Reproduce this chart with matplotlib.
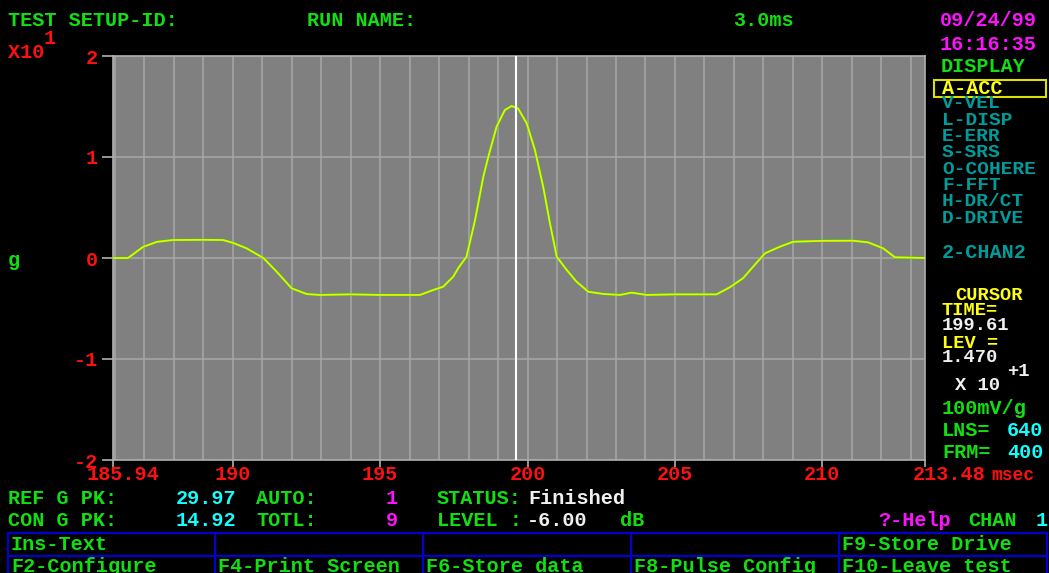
import matplotlib
matplotlib.use("Agg")
import matplotlib.pyplot as plt
import matplotlib.transforms as mtransforms

W, H = 1049, 573

# measured trace (msec, level in units of x10 g)
time_ms = [185.94, 186.45, 186.96, 187.43, 187.97, 189.0, 189.67, 190.01, 190.47, 191.04,
           191.49, 192.0, 192.51, 192.96, 194.0, 195.0, 196.35, 196.8, 197.14, 197.48,
           197.65, 197.93, 198.22, 198.5, 198.67, 198.95, 199.23, 199.46, 199.68, 199.97,
           200.25, 200.53, 200.76, 200.99, 201.33, 201.66, 202.06, 202.57, 203.13, 203.53,
           204.04, 205.0, 206.41, 206.86, 207.31, 207.65, 208.05, 208.56, 209.01, 210.0,
           211.04, 211.55, 212.06, 212.46, 213.48]
level = [0, 0, 0.11, 0.16, 0.178, 0.18, 0.178, 0.15, 0.096, 0,
         -0.135, -0.30, -0.357, -0.366, -0.36, -0.366, -0.366, -0.317, -0.284, -0.185,
         -0.10, 0.013, 0.376, 0.805, 1.003, 1.30, 1.465, 1.505, 1.48, 1.334,
         1.07, 0.706, 0.343, 0.013, -0.119, -0.234, -0.334, -0.356, -0.366, -0.343,
         -0.366, -0.36, -0.36, -0.29, -0.20, -0.086, 0.046, 0.112, 0.161, 0.17,
         0.171, 0.155, 0.096, 0.007, 0]

cursor_time = 199.61
x_ticks = [185.94, 190, 195, 200, 205, 210, 213.48]
x_labels = ["185.94", "190", "195", "200", "205", "210", "213.48"]
y_ticks = [-2, -1, 0, 1, 2]

display_menu = ["V-VEL", "L-DISP", "E-ERR", "S-SRS", "O-COHERE", "F-FFT", "H-DR/CT", "D-DRIVE"]
fkeys_row1 = ["Ins-Text", "", "", "", "F9-Store Drive"]
fkeys_row2 = ["F2-Configure", "F4-Print Screen", "F6-Store data", "F8-Pulse Config", "F10-Leave test"]

GREEN = "#10e010"
RED = "#ff1010"
MAG = "#ff10ff"
TEAL = "#009c9c"
CYAN = "#10ffff"
YEL = "#ffff10"
WHITE = "#f0f0f0"
BLUE = "#0000d0"

plt.rcParams["font.family"] = ["Liberation Mono", "DejaVu Sans Mono"]
plt.rcParams["font.weight"] = "bold"
FS = 14.5

fig = plt.figure(figsize=(W / 100, H / 100), dpi=100, facecolor="black")


def txt(x, y, s, c, fs=FS, ha="left"):
    # screen pixel coords, origin top-left
    fig.text(x / W, 1 - y / H, s, color=c, fontsize=fs, ha=ha, va="center", fontweight="bold")


ax = fig.add_axes([113 / W, 1 - 460 / H, 812 / W, 404 / H])
ax.set_facecolor("#808080")
ax.set_xlim(185.94, 213.48)
ax.set_ylim(-2, 2)

for t in range(186, 214):
    ax.axvline(t, color="#a8a8a8", lw=1.1, zorder=1)
for yv in [-1, 0, 1]:
    ax.axhline(yv, color="#a8a8a8", lw=1.1, zorder=1)

ax.plot(time_ms, level, color=GREEN, lw=1.8, zorder=3)
ax.plot(time_ms, level, color="#f0f000", lw=1.3, zorder=4)
ax.axvline(cursor_time, color="white", lw=1.5, zorder=5)

for sp in ax.spines.values():
    sp.set_color("#b0b0b0")
    sp.set_linewidth(1.2)

ax.set_yticks(y_ticks)
ax.set_yticklabels([str(v) for v in y_ticks], color=RED, fontsize=FS, fontweight="bold")
ax.set_xticks(x_ticks)
ax.set_xticklabels([])
ax.tick_params(axis="y", colors="#b0b0b0", length=8, width=1.2, pad=3, labelcolor=RED)
ax.tick_params(axis="x", colors="#b0b0b0", length=5, width=1.2)

trans = mtransforms.blended_transform_factory(ax.transData, ax.transAxes)
for i, (tv, lab) in enumerate(zip(x_ticks, x_labels)):
    if i == 0:
        tr = trans + mtransforms.ScaledTranslation(-0.26, 0, fig.dpi_scale_trans)
        ax.text(tv, -0.037, lab, transform=tr, color=RED, fontsize=FS, ha="left", va="center")
    elif i == len(x_ticks) - 1:
        tr = trans + mtransforms.ScaledTranslation(-0.12, 0, fig.dpi_scale_trans)
        ax.text(tv, -0.037, lab, transform=tr, color=RED, fontsize=FS, ha="left", va="center")
    else:
        ax.text(tv, -0.037, lab, transform=trans, color=RED, fontsize=FS, ha="center", va="center")
txt(991, 476, "msec", RED, fs=13)

# header
txt(8, 20, "TEST SETUP-ID:", GREEN)
txt(307, 20, "RUN NAME:", GREEN)
txt(733, 20, "3.0ms", GREEN)
txt(940, 20, "09/24/99", MAG)
txt(940, 44, "16:16:35", MAG)

# left labels
txt(8, 52, "X10", RED)
txt(44, 39, "1", RED)
txt(8, 260, "g", GREEN)

# right side menu
txt(941, 67, "DISPLAY", GREEN)
fig.patches.append(plt.Rectangle((934 / W, 1 - 97 / H), 112 / W, 17 / H, transform=fig.transFigure,
                                 fill=False, edgecolor="#e0e000", lw=1.5))
txt(942, 88, "A-ACC", YEL)
for i, item in enumerate(display_menu):
    txt(942, 104 + i * 16.3, item, TEAL, fs=14)
txt(942, 253, "2-CHAN2", TEAL)

cs = 13.5
txt(955, 295, "CURSOR", YEL, fs=cs)
txt(942, 310, "TIME=", YEL, fs=cs)
txt(942, 325, "199.61", WHITE, fs=cs)
txt(942, 343, "LEV =", YEL, fs=cs)
txt(942, 358, "1.470", WHITE, fs=cs)
txt(955, 386, "X 10", WHITE, fs=cs)
txt(1007, 372, "+1", WHITE, fs=cs)
txt(942, 408, "100mV/g", GREEN)
txt(942, 431, "LNS=", GREEN)
txt(1007, 431, "640", CYAN)
txt(942, 453, "FRM=", GREEN)
txt(1007, 453, "400", CYAN)

# status lines
txt(8, 498, "REF G PK:", GREEN)
txt(176, 498, "29.97", CYAN)
txt(256, 498, "AUTO:", GREEN)
txt(386, 498, "1", MAG)
txt(437, 498, "STATUS:", GREEN)
txt(528, 498, "Finished", WHITE)

txt(8, 521, "CON G PK:", GREEN)
txt(176, 521, "14.92", CYAN)
txt(256, 521, "TOTL:", GREEN)
txt(386, 521, "9", MAG)
txt(437, 521, "LEVEL :", GREEN)
txt(527, 521, "-6.00", WHITE)
txt(620, 521, "dB", GREEN)
txt(878, 521, "?-Help", MAG)
txt(968, 521, "CHAN", GREEN)
txt(1036, 521, "1", CYAN)

# function key box
col_x = [8, 215, 423, 631, 839, 1047]
for y in [533, 556]:
    fig.add_artist(plt.Line2D([col_x[0] / W, col_x[-1] / W], [1 - y / H, 1 - y / H], color=BLUE, lw=1.6))
for x in col_x:
    fig.add_artist(plt.Line2D([x / W, x / W], [1 - 533 / H, 0], color=BLUE, lw=1.6))
for i in range(5):
    if fkeys_row1[i]:
        txt(col_x[i] + 3, 545, fkeys_row1[i], GREEN)
    txt(col_x[i] + 3, 566, fkeys_row2[i], GREEN)

fig.savefig("out.png", dpi=100, facecolor="black")
